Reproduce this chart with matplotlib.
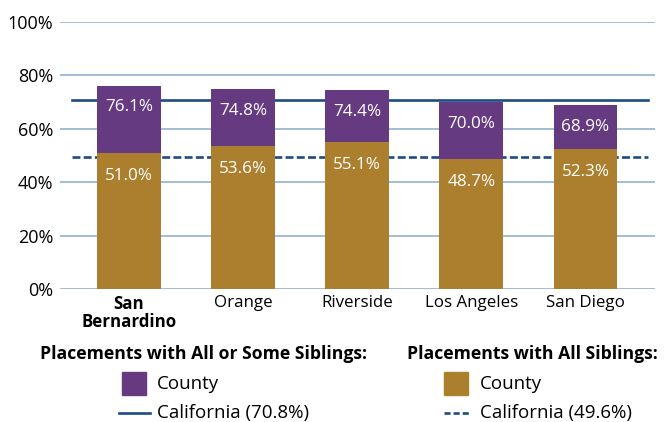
import matplotlib
matplotlib.use('Agg')
import matplotlib.pyplot as plt
from matplotlib.patches import Rectangle
from matplotlib.lines import Line2D

# data
counties = ['San\nBernardino', 'Orange', 'Riverside', 'Los Angeles', 'San Diego']
all_or_some = [76.1, 74.8, 74.4, 70.0, 68.9]   # purple, all or some siblings
all_sibs = [51.0, 53.6, 55.1, 48.7, 52.3]      # gold, all siblings
ca_all_or_some = 70.8
ca_all = 49.6
yticks = [0, 20, 40, 60, 80, 100]

purple = '#663a80'
gold = '#ab7f2e'
navy = '#1d4b84'
gridc = '#92b2cd'

plt.rcParams['font.family'] = ['Open Sans', 'DejaVu Sans']

fig = plt.figure(figsize=(6.65, 4.22), dpi=100)
ax = fig.add_axes([0.0902, 0.315, 0.895, 0.633])

x = list(range(len(counties)))
w = 0.56
ax.bar(x, all_or_some, width=w, color=purple, zorder=3)
ax.bar(x, all_sibs, width=w, color=gold, zorder=4)

# california reference lines sit behind the bars
ax.plot([-0.5, 4.55], [ca_all_or_some] * 2, color=navy, lw=1.9, zorder=2)
ax.plot([-0.5, 4.55], [ca_all] * 2, color=navy, lw=1.9, dashes=(3.0, 1.25), zorder=2)

for xi, a, b in zip(x, all_or_some, all_sibs):
    ax.annotate(f'{a:.1f}%', (xi, a), xytext=(0, -15.5), textcoords='offset points',
                ha='center', va='center', color='white', fontsize=12.3, zorder=5)
    ax.annotate(f'{b:.1f}%', (xi, b), xytext=(0, -16.5), textcoords='offset points',
                ha='center', va='center', color='white', fontsize=12.3, zorder=5)

ax.set_xlim(-0.605, 4.61)
ax.set_ylim(0, 100)
ax.set_yticks(yticks)
ax.set_yticklabels([f'{v}%' for v in yticks], fontsize=13)
ax.set_xticks(x)
ax.set_xticklabels(counties, fontsize=12.2, linespacing=1.05)
ax.get_xticklabels()[0].set_fontweight('bold')
ax.tick_params(length=0)
ax.tick_params(axis='y', pad=5)
ax.tick_params(axis='x', pad=4)
for s in ax.spines.values():
    s.set_visible(False)
ax.yaxis.grid(True, color=gridc, lw=1.2, zorder=1)
ax.set_axisbelow(True)

# legend, built by hand
W, H = 665.0, 422.0
def fx(px):
    return px / W
def fy(py):
    return 1 - py / H

fig.text(fx(40), fy(354), 'Placements with All or Some Siblings:', fontsize=12.7,
         fontweight='bold', va='center', ha='left')
fig.text(fx(407), fy(354), 'Placements with All Siblings:', fontsize=12.7,
         fontweight='bold', va='center', ha='left')

fig.add_artist(Rectangle((fx(122), fy(395)), fx(24), (395 - 372) / H,
                         transform=fig.transFigure, color=purple))
fig.add_artist(Rectangle((fx(444), fy(395)), fx(24), (395 - 372) / H,
                         transform=fig.transFigure, color=gold))
fig.add_artist(Line2D([fx(119), fx(150)], [fy(413)] * 2, transform=fig.transFigure,
                      color=navy, lw=1.9))
fig.add_artist(Line2D([fx(444), fx(471)], [fy(413)] * 2, transform=fig.transFigure,
                      color=navy, lw=1.9, dashes=(2.3, 1.15)))

fig.text(fx(157), fy(384), 'County', fontsize=13.5, va='center', ha='left')
fig.text(fx(157), fy(413), 'California (70.8%)', fontsize=13.5, va='center', ha='left')
fig.text(fx(480), fy(384), 'County', fontsize=13.5, va='center', ha='left')
fig.text(fx(480), fy(413), 'California (49.6%)', fontsize=13.5, va='center', ha='left')

fig.savefig('out.png', dpi=100)
